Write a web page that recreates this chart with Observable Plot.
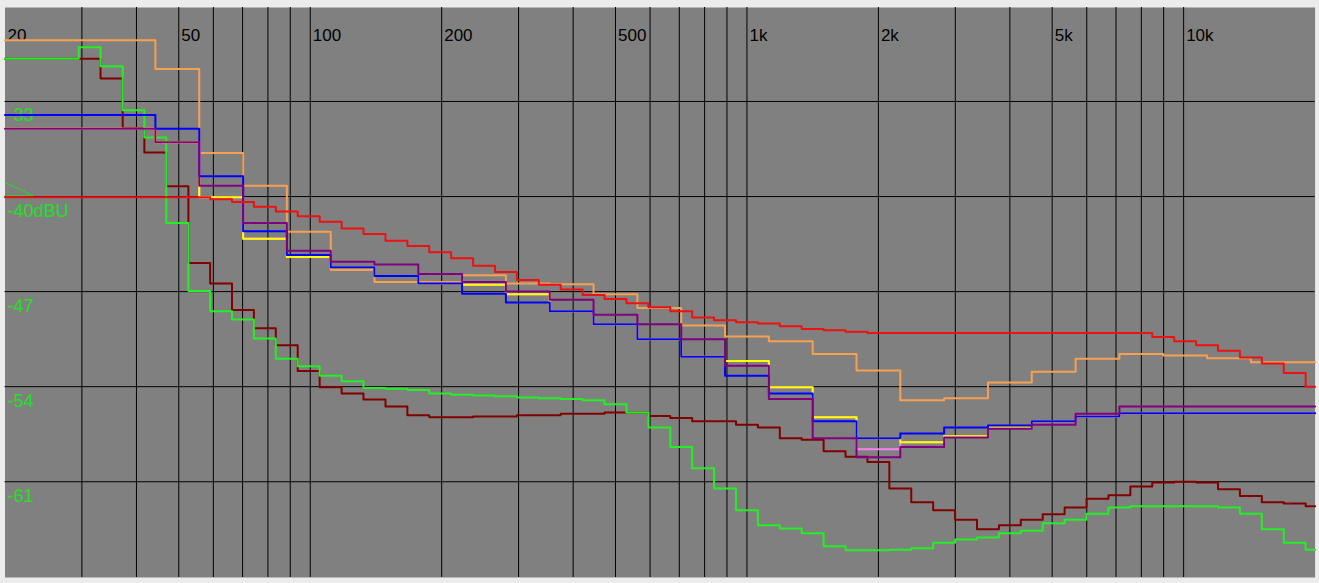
<!DOCTYPE html>
<html>
<head>
<meta charset="utf-8">
<script src="https://cdn.jsdelivr.net/npm/d3@7"></script>
<script src="https://cdn.jsdelivr.net/npm/@observablehq/plot@0.6"></script>
<style>
  html, body { margin: 0; padding: 0; background: #ececec; }
  #chart { width: 1319px; height: 583px; }
</style>
</head>
<body>
<div id="chart"></div>
<script>
// Band edges (Hz): 1/3-octave and 1/6-octave analyser bands
const edges3 = [20, 22.1, 27.8, 35.1, 44.2, 55.7, 70.2, 88.4, 111.4, 140.3, 176.8, 222.7, 280.6, 353.6, 445.4, 561.2, 707.1, 890.9, 1122.5, 1414.2, 1781.8, 2244.9, 2828.4, 3563.6, 4489.8, 5656.9, 7127.2, 8979.7, 11313.7, 14254.4, 17959.4, 20000];
const edges6 = [20, 20.9, 23.4, 26.3, 29.5, 33.1, 37.2, 41.7, 46.8, 52.6, 59.0, 66.2, 74.3, 83.4, 93.6, 105.1, 118.0, 132.4, 148.7, 166.9, 187.3, 210.2, 236.0, 264.9, 297.3, 333.7, 374.6, 420.4, 471.9, 529.7, 594.6, 667.4, 749.2, 840.9, 943.9, 1059.5, 1189.2, 1334.8, 1498.3, 1681.8, 1887.7, 2118.9, 2378.4, 2669.6, 2996.6, 3363.6, 3775.5, 4237.9, 4756.8, 5339.3, 5993.2, 6727.2, 7551.0, 8475.9, 9513.8, 10678.9, 11986.7, 13454.6, 15102.3, 16951.7, 19027.6, 20000];

// 1/3-octave series (dBU per band)
const orange = [-28.5,-28.5,-28.5,-28.5,-30.6,-36.8,-39.2,-42.6,-45.4,-46.3,-46.3,-45.8,-46.4,-46.45,-47.2,-48.2,-49.5,-50.3,-50.65,-51.6,-52.8,-55.0,-54.85,-53.7,-52.9,-51.95,-51.6,-51.7,-51.9,-52.2,-52.2];
const blue = [-34.0,-34.0,-34.0,-34.0,-35.0,-38.5,-42.55,-44.3,-45.2,-45.85,-46.4,-47.15,-47.8,-48.45,-49.4,-50.5,-51.8,-53.2,-54.5,-56.55,-57.8,-57.45,-57.0,-56.85,-56.55,-56.2,-55.95,-55.95,-55.95,-55.95,-55.95];
const purple = [-35.0,-35.0,-35.0,-35.0,-36.0,-39.2,-41.95,-44.0,-44.8,-45.0,-45.7,-46.3,-47.0,-47.6,-48.7,-49.4,-50.5,-52.45,-54.9,-57.8,-59.2,-58.45,-57.75,-57.1,-56.8,-56.0,-55.45,-55.45,-55.45,-55.45,-55.45];
const yellow = [-35.0,-35.0,-35.0,-35.0,-36.0,-40.05,-43.1,-44.45,-45.2,-45.85,-46.4,-46.5,-47.2,-48.45,-49.4,-50.5,-51.8,-52.1,-54.05,-56.25,-57.8,-58.1,-57.65,-56.95,-56.55,-56.2,-55.95,-55.95,-55.95,-55.95,-55.95];
const pink = [-35.0,-35.0,-35.0,-35.0,-36.0,-40.05,-43.1,-44.45,-45.2,-45.85,-46.4,-46.5,-47.2,-48.45,-49.4,-50.5,-51.8,-52.1,-54.05,-56.25,-58.6,-58.1,-57.65,-56.95,-56.55,-56.2,-55.95,-55.95,-55.95,-55.95,-55.95];

// 1/6-octave series (dBU per band)
const red = [-40.05,-40.05,-40.05,-40.05,-40.05,-40.05,-40.05,-40.05,-40.05,-40.05,
  -40.2,-40.4,-40.75,-41.1,-41.45,-41.85,-42.35,-42.75,-43.25,-43.65,
  -44.1,-44.55,-45.1,-45.55,-46.15,-46.5,-46.85,-47.25,-47.55,-47.85,
  -48.15,-48.45,-48.9,-49.1,-49.25,-49.35,-49.55,-49.75,-49.85,-49.95,
  -50.05,-50.05,-50.05,-50.05,-50.05,-50.05,-50.05,-50.05,-50.05,-50.05,
  -50.05,-50.05,-50.05,-50.35,-50.65,-50.95,-51.35,-51.85,-52.3,-53.0,-54.0];
const green = [-29.85,-29.85,-29.85,-29.85,-29.0,-30.4,-33.65,-35.65,-41.95,-46.95,
  -48.45,-49.05,-50.45,-51.95,-52.5,-53.2,-53.6,-54.1,-54.15,-54.25,
  -54.5,-54.6,-54.65,-54.7,-54.8,-54.85,-54.9,-55.0,-55.3,-55.9,
  -57.0,-58.45,-60.0,-61.5,-63.1,-64.2,-64.45,-64.8,-65.75,-66.05,
  -66.05,-66.0,-65.9,-65.5,-65.25,-65.1,-64.8,-64.6,-64.05,-63.8,
  -63.35,-62.9,-62.8,-62.8,-62.8,-62.8,-62.9,-63.35,-64.5,-65.5,-66.0];
const darkred = [-29.85,-29.85,-29.85,-29.85,-29.85,-31.3,-34.95,-36.75,-39.25,-44.9,
  -46.4,-48.35,-49.7,-50.95,-52.85,-54.05,-54.5,-54.95,-55.45,-56.1,
  -56.25,-56.25,-56.2,-56.2,-56.1,-56.1,-56.0,-56.0,-55.9,-55.9,
  -56.15,-56.3,-56.55,-56.55,-56.8,-57.0,-57.8,-57.9,-58.75,-59.15,
  -59.55,-61.5,-62.5,-63.1,-63.8,-64.5,-64.2,-63.8,-63.4,-62.9,
  -62.25,-62.0,-61.35,-61.05,-61.0,-61.05,-61.55,-62.05,-62.5,-62.6,-62.8];

// Grid and tick labels
const xGrid = [30, 40, 50, 60, 70, 80, 90, 100, 200, 300, 400, 500, 600, 700, 800, 900, 1000, 2000, 3000, 4000, 5000, 6000, 7000, 8000, 9000, 10000];
const xTicks = [20, 50, 100, 200, 500, 1000, 2000, 5000, 10000];
const xTickLabels = ["20", "50", "100", "200", "500", "1k", "2k", "5k", "10k"];
const yTicks = [-33, -40, -47, -54, -61];
const yTickLabels = ["-33", "-40dBU", "-47", "-54", "-61"];
const refMarkerF = [20, 23.2, 20];
const refMarkerDb = [-38.95, -39.95, -39.95];

const series = [
  {name: "darkred", edges: edges6, values: darkred, color: "#800000"},
  {name: "green", edges: edges6, values: green, color: "#22f022"},
  {name: "pink", edges: edges3, values: pink, color: "#ff80f0"},
  {name: "yellow", edges: edges3, values: yellow, color: "#ffff00"},
  {name: "orange", edges: edges3, values: orange, color: "#f7a052"},
  {name: "blue", edges: edges3, values: blue, color: "#0000ff"},
  {name: "purple", edges: edges3, values: purple, color: "#800080"},
  {name: "red", edges: edges6, values: red, color: "#ee1111"}
];

function stepPoints(s) {
  const pts = s.values.map((v, i) => ({f: s.edges[i], db: v}));
  pts.push({f: s.edges[s.values.length], db: s.values[s.values.length - 1]});
  return pts;
}

const lineMarks = series.map(s => Plot.line(stepPoints(s), {
  x: "f", y: "db", stroke: s.color, strokeWidth: 2, curve: "step-after"
}));

const refMarker = refMarkerF.map((f, i) => ({f, db: refMarkerDb[i]}));

const chart = Plot.plot({
  width: 1319,
  height: 583,
  marginLeft: 4.5,
  marginRight: 4.4,
  marginTop: 7,
  marginBottom: 6,
  style: {background: "transparent", fontFamily: "'Liberation Sans', Arial, sans-serif"},
  x: {type: "log", domain: [20, 20000], axis: null},
  y: {domain: [-68.05, -26.08], axis: null},
  marks: [
    Plot.frame({fill: "#808080", stroke: null}),
    Plot.ruleX(xGrid, {stroke: "#000", strokeWidth: 1}),
    Plot.ruleY(yTicks, {stroke: "#000", strokeWidth: 1}),
    Plot.text(xTicks, {x: d => d, text: (d, i) => xTickLabels[i], frameAnchor: "top", lineAnchor: "bottom", textAnchor: "start", dx: 2.5, dy: 33, fill: "#000", fontSize: 17}),
    Plot.text(yTicks, {y: d => d, text: (d, i) => yTickLabels[i], frameAnchor: "left", lineAnchor: "bottom", textAnchor: "start", dx: 2.5, dy: 20, fill: "#22e022", fontSize: 18}),
    Plot.line(refMarker, {x: "f", y: "db", stroke: "#22e022", strokeWidth: 1}),
    ...lineMarks
  ]
});

document.getElementById("chart").appendChild(chart);
</script>
</body>
</html>
